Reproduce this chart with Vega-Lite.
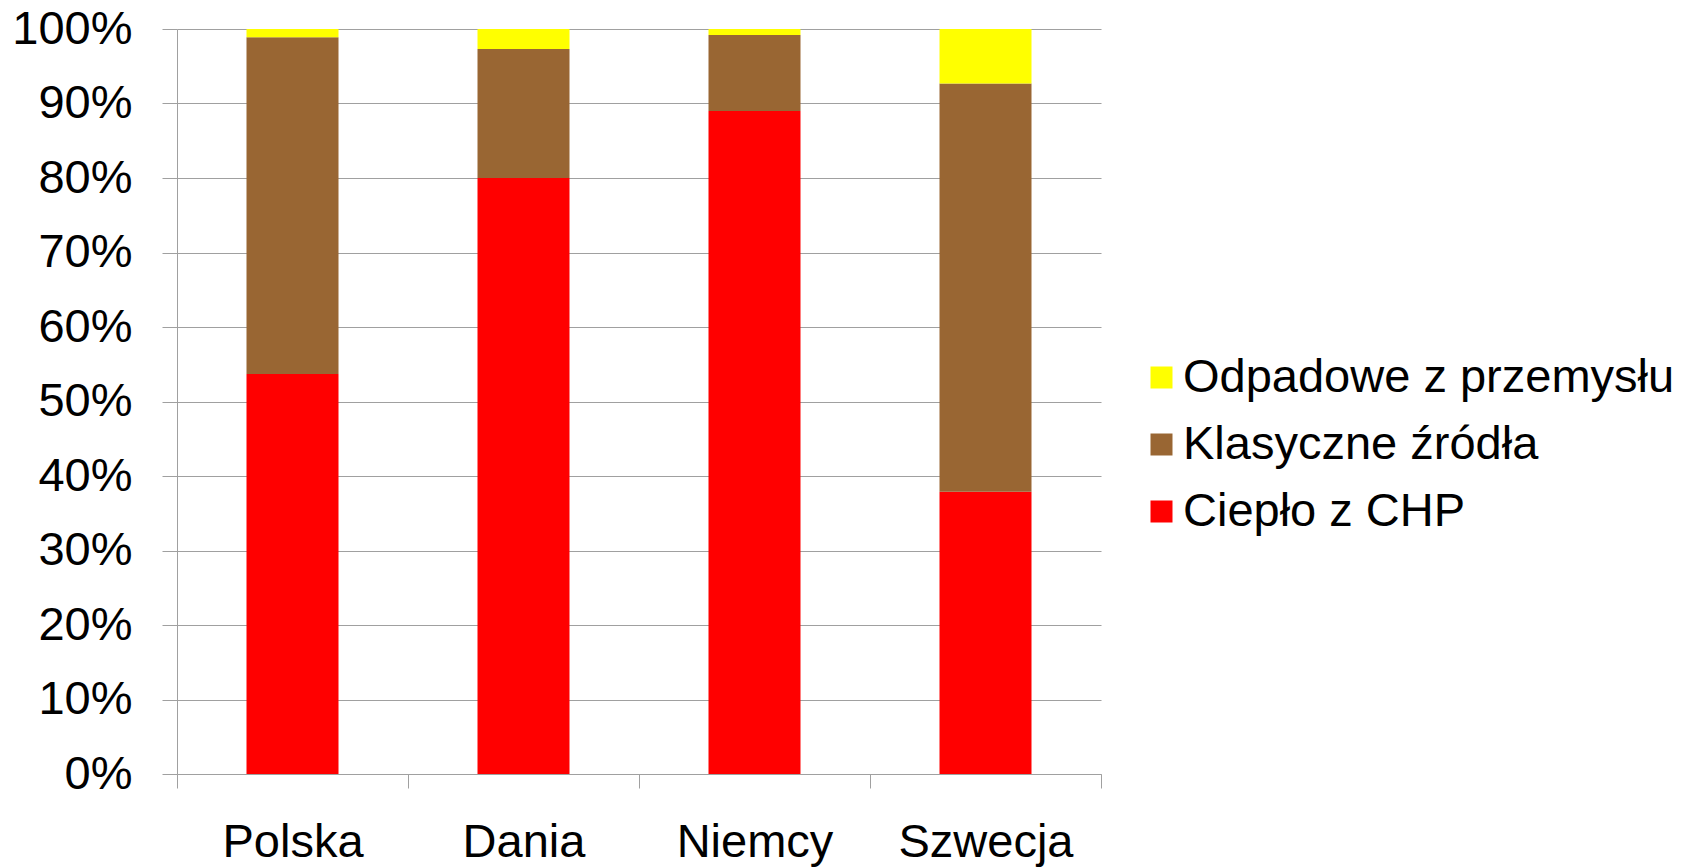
{
  "$schema": "https://vega.github.io/schema/vega-lite/v6.json",
  "autosize": {"type": "none"},
  "width": 924,
  "height": 745,
  "padding": {"left": 177, "top": 29, "right": 589, "bottom": 94},
  "background": "white",
  "data": {
    "values": [
      {"kraj": "Polska", "zrodlo": "Ciepło z CHP", "udzial": 0.537},
      {"kraj": "Polska", "zrodlo": "Klasyczne źródła", "udzial": 0.452},
      {"kraj": "Polska", "zrodlo": "Odpadowe z przemysłu", "udzial": 0.011},
      {"kraj": "Dania", "zrodlo": "Ciepło z CHP", "udzial": 0.800},
      {"kraj": "Dania", "zrodlo": "Klasyczne źródła", "udzial": 0.173},
      {"kraj": "Dania", "zrodlo": "Odpadowe z przemysłu", "udzial": 0.027},
      {"kraj": "Niemcy", "zrodlo": "Ciepło z CHP", "udzial": 0.890},
      {"kraj": "Niemcy", "zrodlo": "Klasyczne źródła", "udzial": 0.102},
      {"kraj": "Niemcy", "zrodlo": "Odpadowe z przemysłu", "udzial": 0.008},
      {"kraj": "Szwecja", "zrodlo": "Ciepło z CHP", "udzial": 0.379},
      {"kraj": "Szwecja", "zrodlo": "Klasyczne źródła", "udzial": 0.548},
      {"kraj": "Szwecja", "zrodlo": "Odpadowe z przemysłu", "udzial": 0.073}
    ]
  },
  "mark": {"type": "bar", "size": 92},
  "encoding": {
    "x": {
      "field": "kraj",
      "type": "nominal",
      "sort": ["Polska", "Dania", "Niemcy", "Szwecja"],
      "scale": {"paddingInner": 0, "paddingOuter": 0},
      "axis": {
        "title": null,
        "labelAngle": 0,
        "tickBand": "extent",
        "tickSize": 14,
        "tickColor": "#a0a0a0",
        "domainColor": "#a0a0a0",
        "labelPadding": 31,
        "labelFont": "Liberation Sans",
        "labelFontSize": 47,
        "labelColor": "#000000",
        "grid": false
      }
    },
    "y": {
      "field": "udzial",
      "type": "quantitative",
      "stack": "zero",
      "scale": {"domain": [0, 1], "nice": false},
      "axis": {
        "title": null,
        "values": [0, 0.1, 0.2, 0.3, 0.4, 0.5, 0.6, 0.7, 0.8, 0.9, 1],
        "format": ".0%",
        "tickSize": 15,
        "tickColor": "#a0a0a0",
        "domainColor": "#a0a0a0",
        "grid": true,
        "gridColor": "#a0a0a0",
        "gridWidth": 1.2,
        "labelPadding": 30,
        "labelFont": "Liberation Sans",
        "labelFontSize": 47,
        "labelColor": "#000000"
      }
    },
    "color": {
      "field": "zrodlo",
      "type": "nominal",
      "sort": ["Odpadowe z przemysłu", "Klasyczne źródła", "Ciepło z CHP"],
      "scale": {
        "domain": ["Odpadowe z przemysłu", "Klasyczne źródła", "Ciepło z CHP"],
        "range": ["#ffff00", "#996633", "#ff0000"]
      },
      "legend": {
        "title": null,
        "orient": "none",
        "legendX": 961,
        "legendY": 325,
        "padding": 0,
        "symbolType": "square",
        "symbolSize": 484,
        "symbolStrokeWidth": 0,
        "symbolOpacity": 1,
        "labelFont": "Liberation Sans",
        "labelFontSize": 47,
        "labelColor": "#000000",
        "labelOffset": -2,
        "labelLimit": 0,
        "rowPadding": 19
      }
    },
    "order": {"field": "zrodlo", "sort": "ascending"}
  },
  "config": {
    "view": {"stroke": null}
  }
}
